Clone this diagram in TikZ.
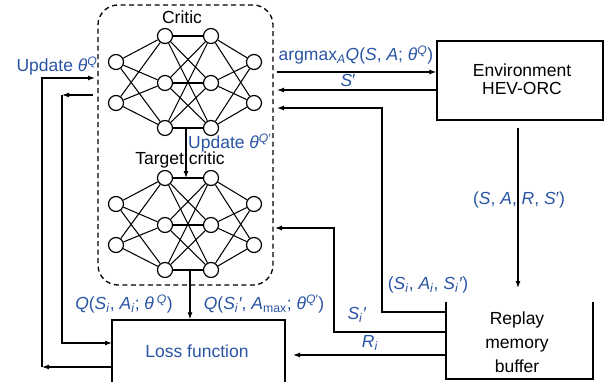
\documentclass[tikz,border=0pt]{standalone}
\usepackage{fontspec}
\setmainfont{Liberation Sans}
\usetikzlibrary{arrows.meta}
\definecolor{lblue}{RGB}{41,84,164}
% italic variable with subscript and prime, e.g. S_i'
\newcommand{\subprime}[2]{\textit{#1}\textsubscript{\textit{#2}}\textit{′}}
\begin{document}
\begin{tikzpicture}[x=1pt,y=-1pt,
  every node/.style={font=\fontsize{17.5}{21}\selectfont},
  neuron/.style={circle,draw,line width=1.2pt,minimum size=15pt,inner sep=0pt,fill=white},
  link/.style={line width=1.05pt},
  flow/.style={line width=1.2pt,-{Latex[length=7pt,width=5pt]}},
  plain/.style={line width=1.2pt},
  lbl/.style={text=lblue,inner sep=0pt},
  box/.style={draw,line width=1.2pt,inner sep=0pt}
]
\clip (0,0) rectangle (604,382);

% dashed frame around critic and target critic
\node[draw,dash pattern=on 5pt off 3.5pt,rounded corners=20pt,line width=1.3pt,
      minimum width=175pt,minimum height=280pt] (frame) at (185.5,145) {};

% the two networks (critic, target critic)
\foreach \net/\dy in {c/0,t/142} {
  \node[neuron] (\net-1-1) at (116,62+\dy) {};
  \node[neuron] (\net-1-2) at (116,103+\dy) {};
  \node[neuron] (\net-2-1) at (165,36+\dy) {};
  \node[neuron] (\net-2-2) at (165,83+\dy) {};
  \node[neuron] (\net-2-3) at (165,128+\dy) {};
  \node[neuron] (\net-3-1) at (211,36+\dy) {};
  \node[neuron] (\net-3-2) at (211,83+\dy) {};
  \node[neuron] (\net-3-3) at (211,128+\dy) {};
  \node[neuron] (\net-4-1) at (254,62+\dy) {};
  \node[neuron] (\net-4-2) at (254,103+\dy) {};
  \foreach \i in {1,2} \foreach \j in {1,2,3} {
    \draw[link] (\net-1-\i) -- (\net-2-\j);
    \draw[link] (\net-3-\j) -- (\net-4-\i);
  }
  \foreach \i in {1,2,3} \foreach \j in {1,2,3}
    \draw[link] (\net-2-\i) -- (\net-3-\j);
}

\node[inner sep=0pt] (critic) at (182,17) {Critic};
\node[inner sep=0pt] (target) at (180,160) {Target critic};

% soft update critic -> target critic
\coordinate (cdown) at (186,128);
\coordinate (tup) at (186,178);
\draw[flow] (cdown) -- (tup);
\node[lbl,anchor=west] (updt) at (188,143) {Update \textit{θ}\textsuperscript{\textit{Q}′}};

% boxes
\node[box,minimum width=166pt,minimum height=79pt] (env) at (520,80.5) {};
\node[align=center,font=\fontsize{17.5}{18.5}\selectfont] (envtxt) at (522,79) {Environment\\HEV-ORC};

\node[box,minimum width=173pt,minimum height=80pt] (loss) at (198.5,360) {};
\node[lbl] (losstxt) at (197,351) {Loss function};

\coordinate (rtl) at (446,302);
\coordinate (rbl) at (446,379);
\coordinate (rbr) at (593,379);
\coordinate (rtr) at (593,302);
\draw[plain] (rtl) -- (rbl) -- (rbr) -- (rtr);
\node[align=center,font=\fontsize{17.5}{24}\selectfont] (replay) at (517,342) {Replay\\memory\\buffer};

% critic <-> environment
\coordinate (cout) at (277,72);
\coordinate (cin) at (277,90);
\draw[flow] (cout) -- (cout -| env.west);
\draw[flow] (cin -| env.west) -- (cin);
\node[lbl] (argmax) at (356,55) {argmax\textsubscript{\textit{A}}\textit{Q}(\textit{S}, \textit{A}; \textit{θ}\textsuperscript{\textit{Q}})};
\node[lbl] (snext) at (348,80) {\textit{S}′};

% environment -> replay buffer
\coordinate (envs) at (518,128);
\coordinate (rtop) at (518,288);
\draw[flow] (envs) -- (rtop);
\node[lbl] (trans) at (519,200) {(\textit{S}, \textit{A}, \textit{R}, \textit{S}′)};

% replay buffer -> critic
\coordinate (r1) at (446,312);
\coordinate (b1) at (382,312);
\coordinate (cin2) at (277,108);
\draw[flow] (r1) -- (b1) |- (cin2);
\node[lbl] (batch) at (428,285) {(\textit{S}\textsubscript{\textit{i}}, \textit{A}\textsubscript{\textit{i}}, \subprime{S}{i})};

% replay buffer -> target critic
\coordinate (r2) at (446,332);
\coordinate (b2) at (334,332);
\coordinate (tin) at (275,228);
\draw[flow] (r2) -- (b2) |- (tin);
\node[lbl] (sip) at (357,315) {\subprime{S}{i}};

% replay buffer -> loss
\coordinate (r3) at (446,355);
\coordinate (lossr) at (293,355);
\draw[flow] (r3) -- (lossr);
\node[lbl] (ri) at (370,343) {\textit{R}\textsubscript{\textit{i}}};

% target critic -> loss
\coordinate (tdown) at (190,270);
\draw[flow] (tdown) -- (tdown |- loss.north);
\node[lbl] (qi) at (124,304) {\textit{Q}(\textit{S}\textsubscript{\textit{i}}, \textit{A}\textsubscript{\textit{i}}; \textit{θ}\,\textsuperscript{\textit{Q}})};
\node[lbl] (qt) at (264,304) {\textit{Q}(\subprime{S}{i}, \textit{A}\textsubscript{max}; \textit{θ}\textsuperscript{\textit{Q}′})};

% loss -> critic update
\coordinate (lossw2) at (112,367);
\coordinate (k1) at (42,367);
\coordinate (cupd) at (95,78);
\draw[flow] (lossw2) -- (k1);
\draw[flow] (k1) |- (cupd);
\node[lbl] (upd) at (57,66) {Update \textit{θ}\textsuperscript{\textit{Q}}};

% critic output -> loss
\coordinate (cleft) at (93,95);
\coordinate (k2) at (62,95);
\coordinate (lossw1) at (112,343);
\draw[flow] (cleft) -- (k2);
\draw[flow] (k2) |- (lossw1);
\end{tikzpicture}
\end{document}
